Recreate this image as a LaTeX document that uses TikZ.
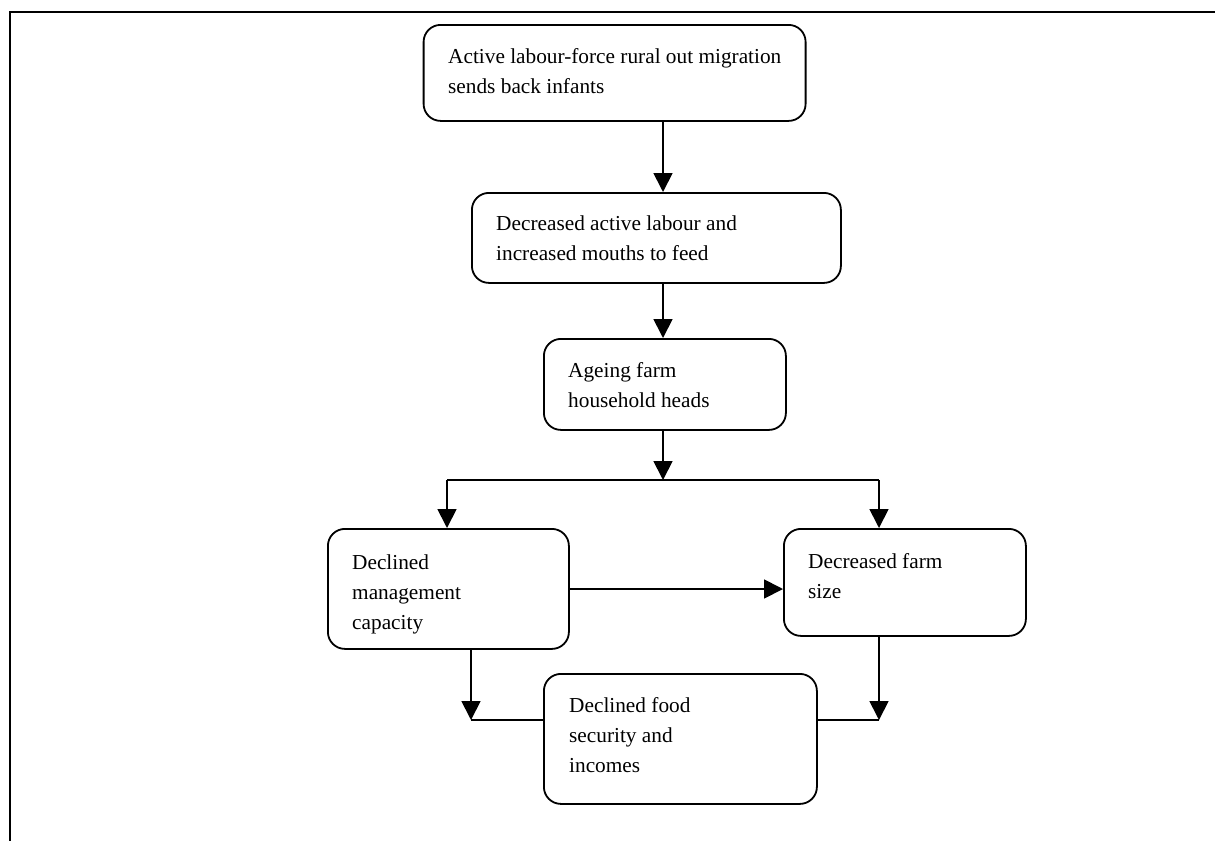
\documentclass[tikz,border=0pt]{standalone}
\usepackage{fontspec}
\setmainfont{Liberation Serif}
\usetikzlibrary{arrows.meta}

\begin{document}
\begin{tikzpicture}[x=1pt,y=-1pt,
  frameline/.style={line width=2.6pt},
  box/.style={draw, line width=1.8pt, rounded corners=17pt, inner sep=0pt,
    anchor=north west},
  txt/.style={anchor=base west, inner sep=0pt,
    font=\fontsize{21.3}{30}\selectfont},
  link/.style={line width=1.8pt},
  arr/.style={line width=1.8pt, -{Triangle[length=19pt,width=19pt]}}]

% page extent
\useasboundingbox (0,0) rectangle (1215,841);

% open frame: top and left edges only
\coordinate (fTL) at (10,12);
\coordinate (fTR) at (1215,12);
\coordinate (fBL) at (10,841);
\draw[frameline] (fTR) -- (fTL) -- (fBL);

% boxes
\node[box, minimum width=382pt, minimum height=96pt]  (b1) at (422.7,24) {};
\node[box, minimum width=369pt, minimum height=90pt]  (b2) at (471,192) {};
\node[box, minimum width=242pt, minimum height=91pt]  (b3) at (543,338) {};
\node[box, minimum width=241pt, minimum height=120pt] (b4) at (327,528) {};
\node[box, minimum width=242pt, minimum height=107pt] (b5) at (783,528) {};
\node[box, minimum width=273pt, minimum height=130pt] (b6) at (543,673) {};

% box texts
\node[txt] (t1) at (448,63)  {\parbox[t]{500pt}{\raggedright Active labour-force rural out migration\\sends back infants}};
\node[txt] (t2) at (496,230) {\parbox[t]{500pt}{\raggedright Decreased active labour and\\increased mouths to feed}};
\node[txt] (t3) at (568,377) {\parbox[t]{300pt}{\raggedright Ageing farm\\household heads}};
\node[txt] (t4) at (352,569) {\parbox[t]{300pt}{\raggedright Declined\\management\\capacity}};
\node[txt] (t5) at (808,568) {\parbox[t]{300pt}{\raggedright Decreased farm\\size}};
\node[txt] (t6) at (569,712) {\parbox[t]{300pt}{\raggedright Declined food\\security and\\incomes}};

% helper coordinates for the connector routes
\coordinate (spine) at (663,0);
\coordinate (j) at (663,480);
\coordinate (jl) at (447,480);
\coordinate (jr) at (879,480);
\coordinate (ml) at (471,720);
\coordinate (mr) at (879,720);

% main chain
\draw[arr] (b1.south -| spine) -- (b2.north -| spine);
\draw[arr] (b2.south -| spine) -- (b3.north -| spine);
\draw[arr] (b3.south -| spine) -- (j);

% split to the two consequences
\draw[link] (jl) -- (jr);
\draw[arr] (jl) -- (jl |- b4.north);
\draw[arr] (jr) -- (jr |- b5.north);

% management capacity feeds farm size
\coordinate (h) at (0,589);
\draw[arr] (b4.east |- h) -- (b5.west |- h);

% both lead to food security
\draw[arr] (b4.south -| ml) -- (ml);
\draw[link] (ml) -- (ml -| b6.west);
\draw[arr] (b5.south -| mr) -- (mr);
\draw[link] (mr) -- (mr -| b6.east);

\end{tikzpicture}
\end{document}
